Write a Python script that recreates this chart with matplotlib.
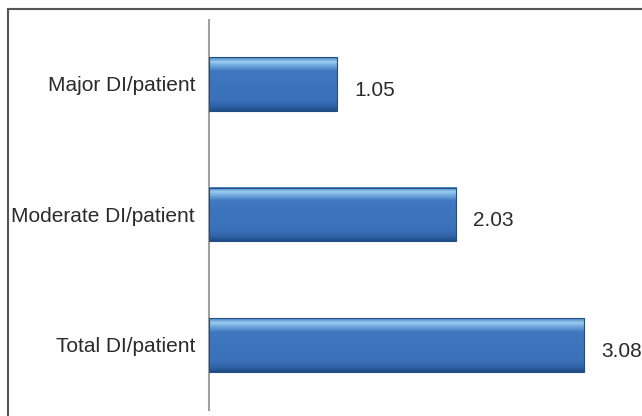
import numpy as np
import matplotlib
matplotlib.use("Agg")
from matplotlib import pyplot as plt
from matplotlib.lines import Line2D
from matplotlib.colors import LinearSegmentedColormap

categories = ["Total DI/patient", "Moderate DI/patient", "Major DI/patient"]
values = [3.08, 2.03, 1.05]
value_labels = ["3.08", "2.03", "1.05"]

plt.rcParams["font.family"] = ["Liberation Sans", "DejaVu Sans"]

W, H = 642, 416
fig = plt.figure(figsize=(W / 100, H / 100), dpi=100)
ax = fig.add_axes([209 / W, 6 / H, 1 - 209 / W, 390 / H])

y = np.arange(len(categories))
bars = ax.barh(y, values, height=0.41, color="#3b72bb", zorder=2)

# bevel look: vertical gradient inside each bar
bevel = LinearSegmentedColormap.from_list("bevel", [
    (0.0, "#1e4d86"), (0.08, "#2f62a6"), (0.2, "#3a71b9"),
    (0.75, "#3f78c0"), (0.85, "#6fa6dc"), (0.92, "#9ccbf0"), (1.0, "#4a84c8")])
grad = np.linspace(0, 1, 64).reshape(-1, 1)
for b in bars:
    x0, y0, w, h = b.get_x(), b.get_y(), b.get_width(), b.get_height()
    ax.imshow(grad, cmap=bevel, origin="lower", aspect="auto",
              extent=(x0, x0 + w, y0, y0 + h), zorder=3)
    ax.add_patch(plt.Rectangle((x0, y0), w, h, fill=False,
                               edgecolor="#244f85", lw=0.8, zorder=4))

for yi, v, lab in zip(y, values, value_labels):
    ax.text(v + 0.14, yi - 0.05, lab, va="center", ha="left", fontsize=15, color="#2a2a2a")

ax.set_xlim(0, 3.555)
ax.set_ylim(-0.5, 2.49)
ax.set_yticks(y)
ax.set_yticklabels(categories, fontsize=15, color="#2a2a2a")
ax.tick_params(axis="y", length=0, pad=10)
ax.set_xticks([])
for s in ["top", "right", "bottom"]:
    ax.spines[s].set_visible(False)
ax.spines["left"].set_color("#a0a0a0")
ax.spines["left"].set_linewidth(1.5)

# outer frame (top and left edges)
fig.add_artist(Line2D([8 / W, 1], [1 - 9 / H, 1 - 9 / H], transform=fig.transFigure,
                      color="#555555", lw=1.5))
fig.add_artist(Line2D([8 / W, 8 / W], [0, 1 - 9 / H], transform=fig.transFigure,
                      color="#555555", lw=1.5))

fig.savefig("out.png", dpi=100)
